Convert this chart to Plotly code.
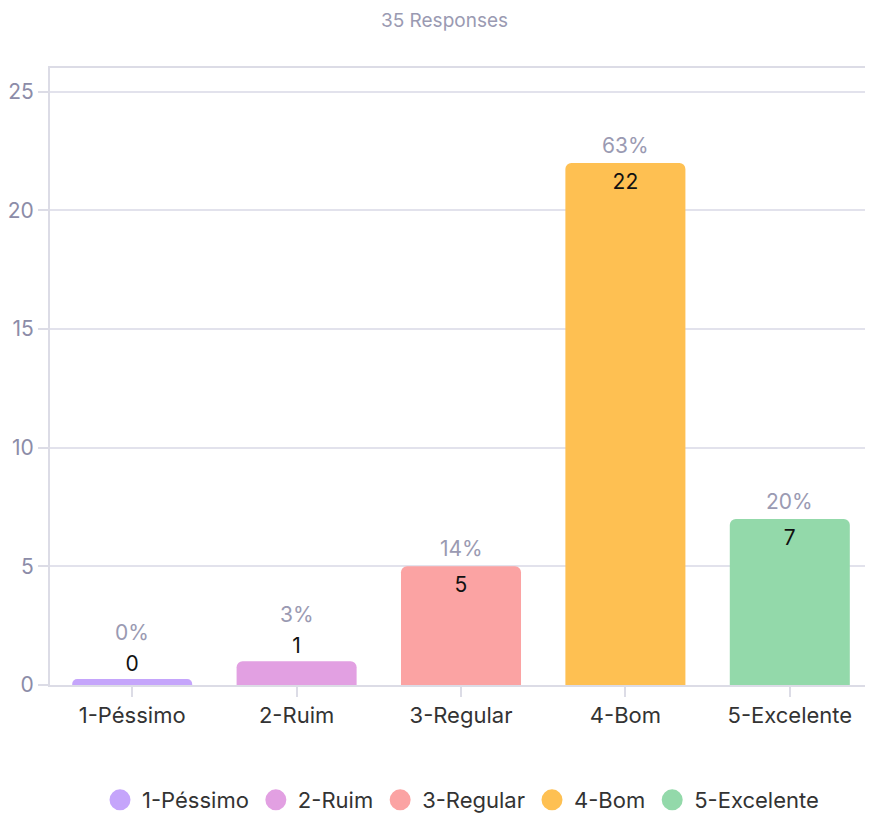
import plotly.graph_objects as go

categories = ["1-Péssimo", "2-Ruim", "3-Regular", "4-Bom", "5-Excelente"]
counts = [0, 1, 5, 22, 7]
colors = ["#C5A5FB", "#E2A0E2", "#FBA3A3", "#FEC052", "#93D9AA"]
title_text = "35 Responses"
y_ticks = [0, 5, 10, 15, 20, 25]

total = sum(counts)
percents = [f"{round(c / total * 100)}%" for c in counts]
# zero-valued bars are drawn with a minimal visible stub (style only)
min_stub = 0.25
bar_heights = [max(c, min_stub) for c in counts]
text_pos = ["outside" if c < 3 else "inside" for c in counts]

FONT = "Inter"
FS = 22
W, H = 873, 815
fig = go.Figure()
fig.add_trace(go.Bar(
    x=categories, y=bar_heights, marker=dict(color=colors, line=dict(width=0)),
    text=[str(c) for c in counts], textposition=text_pos,
    insidetextanchor="end", textangle=0,
    insidetextfont=dict(color="#111111", size=FS - 1, family=FONT),
    outsidetextfont=dict(color="#111111", size=FS - 1, family=FONT),
    cliponaxis=False, showlegend=False, hoverinfo="skip",
))

for cat, h, p, pos in zip(categories, bar_heights, percents, text_pos):
    fig.add_annotation(x=cat, y=h, text=p, showarrow=False, yanchor="bottom",
                       yshift=32 if pos == "outside" else 3,
                       font=dict(color="#9A9AB2", size=FS - 1, family=FONT))

for cat, col in zip(categories, colors):
    fig.add_trace(go.Scatter(x=[None], y=[None], mode="markers", name=cat,
                             marker=dict(symbol="circle", size=16, color=col,
                                         line=dict(width=5, color=col))))

fig.update_layout(
    width=W, height=H,
    margin=dict(l=42, r=9, t=60, b=138, autoexpand=False),
    paper_bgcolor="white", plot_bgcolor="white",
    barcornerradius=6, bargap=0.27,
    title=dict(text=title_text, x=0.5, xanchor="center", yref="container",
               y=1 - 12 / H, yanchor="middle",
               font=dict(color="#9A9AB2", size=19, family=FONT)),
    font=dict(family=FONT),
    legend=dict(orientation="h", x=0.5, xanchor="center", yref="container",
                y=1 - 792 / H, yanchor="middle",
                font=dict(size=FS, color="#333333", family=FONT), itemwidth=34,
                traceorder="normal"),
)
fig.update_xaxes(showline=True, mirror=True, linecolor="#DCDCE6", linewidth=2,
                 ticks="outside", ticklen=10, tickcolor="#DCDCE6", tickwidth=2,
                 automargin=False,
                 tickfont=dict(size=FS, color="#333333", family=FONT), showgrid=False)
fig.update_yaxes(range=[0, 26], tickvals=y_ticks, showline=True, linecolor="#DCDCE6", linewidth=2,
                 gridcolor="#E2E2EC", gridwidth=2, ticks="outside", ticklen=10,
                 tickcolor="#DCDCE6", tickwidth=2, zeroline=False, automargin=False,
                 tickfont=dict(size=FS - 1, color="#8C8CA8", family=FONT))

fig.write_html("out.html")
